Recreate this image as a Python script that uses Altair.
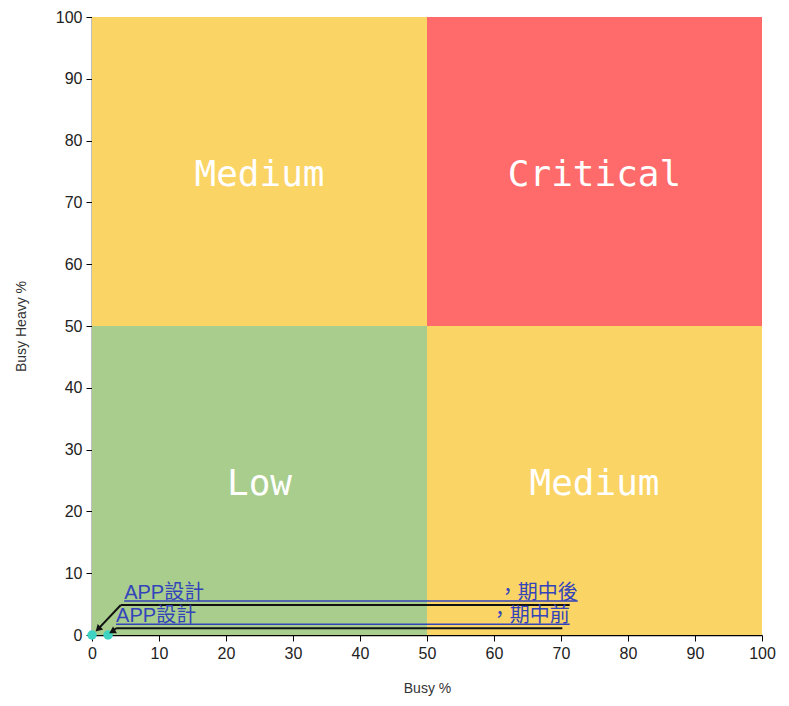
import altair as alt
import pandas as pd

# Quadrants
quad_x0 = [0, 50, 0, 50]
quad_x1 = [50, 100, 50, 100]
quad_y0 = [50, 50, 0, 0]
quad_y1 = [100, 100, 50, 50]
quad_label = ["Medium", "Critical", "Low", "Medium"]
quad_color = ["#FAD464", "#FE6B6A", "#A9CD8D", "#FAD464"]

# Data points
pt_x = [0, 2.4]
pt_y = [0, 0]

# Annotations
ann_left = ["APP設計", "APP設計"]
ann_right = ["，期中後", "，期中前"]
ann_x = [4.8, 3.6]
ann_end = [72.5, 71.3]
ann_under_y = [5.5, 1.75]
lead_y = [4.85, 1.1]
lead_x0 = [4.3, 3.6]
lead_x1 = [71.3, 70.2]
tip_x = [0.9, 3.0]
tip_y = [0.95, 0.55]
tip_angle = [225, 240]

quad = pd.DataFrame({"x0": quad_x0, "x1": quad_x1, "y0": quad_y0, "y1": quad_y1,
                     "label": quad_label, "color": quad_color,
                     "cx": [(a + b) / 2 for a, b in zip(quad_x0, quad_x1)],
                     "cy": [(a + b) / 2 for a, b in zip(quad_y0, quad_y1)]})
pts = pd.DataFrame({"x": pt_x, "y": pt_y})
ann = pd.DataFrame({"left": ann_left, "right": ann_right, "x": ann_x, "xe": ann_end,
                    "uy": ann_under_y, "ly": lead_y, "lx0": lead_x0, "lx1": lead_x1,
                    "px": pt_x, "py": pt_y, "tx": tip_x, "ty": tip_y, "ang": tip_angle})

xs = alt.Scale(domain=[0, 100], nice=False)
ys = alt.Scale(domain=[0, 100], nice=False)
ticks = list(range(0, 101, 10))

xaxis = alt.Axis(title="Busy %", values=ticks, grid=False, tickSize=6, labelPadding=4,
                 titlePadding=20, labelFlush=False)
yaxis = alt.Axis(title="Busy Heavy %", values=ticks, grid=False, tickSize=6, labelPadding=4,
                 titlePadding=27, labelFlush=False)

rects = alt.Chart(quad).mark_rect(stroke=None).encode(
    x=alt.X("x0:Q", scale=xs, axis=xaxis),
    x2="x1:Q",
    y=alt.Y("y0:Q", scale=ys, axis=yaxis),
    y2="y1:Q",
    color=alt.Color("color:N", scale=None),
)

qtext = alt.Chart(quad).mark_text(font="DejaVu Sans Mono", fontSize=36, color="white",
                                  baseline="middle", align="center", dy=3).encode(
    x=alt.X("cx:Q", scale=xs), y=alt.Y("cy:Q", scale=ys), text="label:N")

lead = alt.Chart(ann).mark_rule(color="#111111", strokeWidth=2).encode(
    x=alt.X("lx0:Q", scale=xs), x2="lx1:Q", y=alt.Y("ly:Q", scale=ys))
diag = alt.Chart(ann).mark_rule(color="#111111", strokeWidth=2).encode(
    x=alt.X("lx0:Q", scale=xs), x2="tx:Q", y=alt.Y("ly:Q", scale=ys), y2="ty:Q")
heads = alt.Chart(ann).mark_point(shape="triangle-up", filled=True, color="#111111",
                                  size=60, opacity=1).encode(
    x=alt.X("tx:Q", scale=xs), y=alt.Y("ty:Q", scale=ys), angle=alt.Angle("ang:Q", scale=None))
under = alt.Chart(ann).mark_rule(color="#3344BB", strokeWidth=1.5).encode(
    x=alt.X("x:Q", scale=xs), x2="xe:Q", y=alt.Y("uy:Q", scale=ys))
ltext = alt.Chart(ann).mark_text(font="Liberation Sans, Noto Sans CJK TC", fontSize=20,
                                 color="#3344BB", align="left", baseline="alphabetic", dy=-2).encode(
    x=alt.X("x:Q", scale=xs), y=alt.Y("uy:Q", scale=ys), text="left:N")
rtext = alt.Chart(ann).mark_text(font="Liberation Sans, Noto Sans CJK TC", fontSize=20,
                                 color="#3344BB", align="right", baseline="alphabetic", dy=-2).encode(
    x=alt.X("xe:Q", scale=xs), y=alt.Y("uy:Q", scale=ys), text="right:N")

points = alt.Chart(pts).mark_circle(size=90, color="#3FD3C4", opacity=1).encode(
    x=alt.X("x:Q", scale=xs), y=alt.Y("y:Q", scale=ys))

chart = alt.layer(rects, qtext, points, lead, diag, heads, under, ltext, rtext).properties(
    width=670, height=618,
    padding={"left": 6, "top": 1, "right": 5, "bottom": 5}
).configure_view(stroke=None).configure_axis(
    domainColor="#000000", tickColor="#000000", labelColor="#222222",
    labelFont="Liberation Sans", labelFontSize=16, titleFont="Liberation Sans",
    titleFontSize=14, titleFontWeight="normal", titleColor="#333333", domainWidth=1.5
)

chart.save("out.html", embed_options={"renderer": "svg", "actions": False})
